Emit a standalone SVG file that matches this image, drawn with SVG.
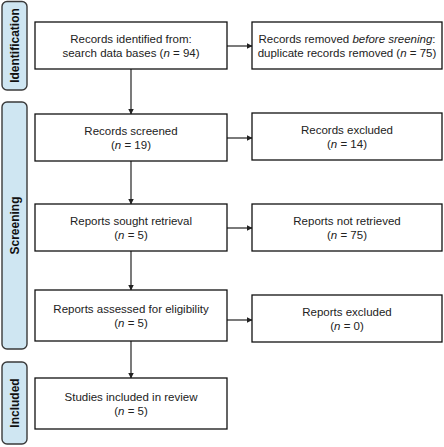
<svg xmlns="http://www.w3.org/2000/svg" width="444" height="447" viewBox="0 0 444 447">
<style>
.side{fill:#cfe6f2;stroke:#3a3a3a;stroke-width:1.4}
.sidet{font-family:"Liberation Sans",Arial,sans-serif;font-size:12px;font-weight:bold;fill:#111;text-anchor:middle}
.box{fill:#fff;stroke:#111;stroke-width:1.3}
.t{font-family:"Liberation Sans",Arial,sans-serif;font-size:11.5px;fill:#222;text-anchor:middle}
.c{stroke:#222;stroke-width:1.2;fill:none}
</style>
<defs>
<marker id="ah" markerWidth="6" markerHeight="6" refX="5.5" refY="3" orient="auto" markerUnits="userSpaceOnUse">
<path d="M0,0 L6,3 L0,6 Z" fill="#222"/>
</marker>
</defs>
<rect width="444" height="447" fill="#fff"/>
<g id="phase-identification">
<rect class="side" x="2" y="1.5" width="25" height="88.5" rx="5"/>
<text class="sidet" transform="translate(18.5,45.5) rotate(-90)">Identification</text>
</g>
<g id="phase-screening">
<rect class="side" x="2" y="102" width="25" height="247" rx="5"/>
<text class="sidet" transform="translate(18.5,225.5) rotate(-90)">Screening</text>
</g>
<g id="phase-included">
<rect class="side" x="2" y="362" width="25" height="82" rx="5"/>
<text class="sidet" transform="translate(18.5,403) rotate(-90)">Included</text>
</g>
<g id="connectors">
<line class="c" x1="131" y1="69" x2="131" y2="114" marker-end="url(#ah)"/>
<line class="c" x1="131" y1="161" x2="131" y2="204" marker-end="url(#ah)"/>
<line class="c" x1="131" y1="251" x2="131" y2="290" marker-end="url(#ah)"/>
<line class="c" x1="131" y1="341" x2="131" y2="378" marker-end="url(#ah)"/>
<line class="c" x1="227" y1="46" x2="252" y2="46" marker-end="url(#ah)"/>
<line class="c" x1="227" y1="138" x2="252" y2="138" marker-end="url(#ah)"/>
<line class="c" x1="227" y1="228" x2="252" y2="228" marker-end="url(#ah)"/>
<line class="c" x1="227" y1="320" x2="252" y2="320" marker-end="url(#ah)"/>
</g>
<g id="n-identified">
<rect class="box" x="35" y="22" width="192" height="47"/>
<text class="t" x="131" y="43">Records identified from:</text>
<text class="t" x="131" y="57">search data bases (<tspan font-style="italic">n</tspan> = 94)</text>
</g>
<g id="n-removed">
<rect class="box" x="252" y="22" width="190" height="47"/>
<text class="t" x="347" y="43">Records removed <tspan font-style="italic">before sreening</tspan>:</text>
<text class="t" x="347" y="57">duplicate records removed (<tspan font-style="italic">n</tspan> = 75)</text>
</g>
<g id="n-screened">
<rect class="box" x="35" y="114" width="192" height="47"/>
<text class="t" x="131" y="135">Records screened</text>
<text class="t" x="131" y="149">(<tspan font-style="italic">n</tspan> = 19)</text>
</g>
<g id="n-excluded">
<rect class="box" x="252" y="113" width="190" height="47"/>
<text class="t" x="347" y="134">Records excluded</text>
<text class="t" x="347" y="148">(<tspan font-style="italic">n</tspan> = 14)</text>
</g>
<g id="n-sought">
<rect class="box" x="35" y="204" width="192" height="47"/>
<text class="t" x="131" y="225">Reports sought retrieval</text>
<text class="t" x="131" y="239">(<tspan font-style="italic">n</tspan> = 5)</text>
</g>
<g id="n-notretrieved">
<rect class="box" x="252" y="204" width="190" height="47"/>
<text class="t" x="347" y="225">Reports not retrieved</text>
<text class="t" x="347" y="239">(<tspan font-style="italic">n</tspan> = 75)</text>
</g>
<g id="n-assessed">
<rect class="box" x="35" y="290" width="192" height="51"/>
<text class="t" x="131" y="313">Reports assessed for eligibility</text>
<text class="t" x="131" y="327">(<tspan font-style="italic">n</tspan> = 5)</text>
</g>
<g id="n-reportsexcluded">
<rect class="box" x="252" y="295" width="190" height="47"/>
<text class="t" x="347" y="316">Reports excluded</text>
<text class="t" x="347" y="330">(<tspan font-style="italic">n</tspan> = 0)</text>
</g>
<g id="n-included">
<rect class="box" x="35" y="378" width="192" height="51"/>
<text class="t" x="131" y="401">Studies included in review</text>
<text class="t" x="131" y="415">(<tspan font-style="italic">n</tspan> = 5)</text>
</g>
</svg>
